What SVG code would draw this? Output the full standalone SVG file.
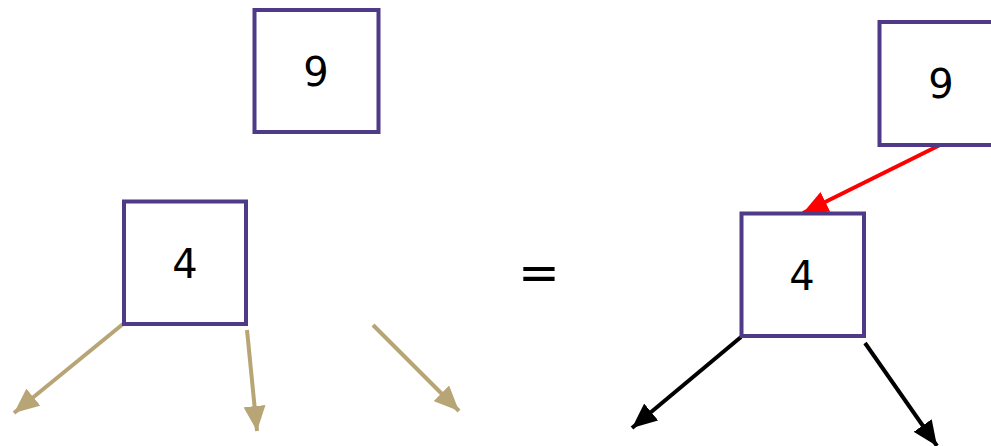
<svg xmlns="http://www.w3.org/2000/svg" width="991" height="446" viewBox="0 0 991 446">
<style>
.box{fill:#fff;stroke:#4F3A88;stroke-width:4}
.lbl{font-family:"DejaVu Sans",sans-serif;font-size:40px;fill:#000;text-anchor:middle}
.tan{stroke:#B8A575;stroke-width:4;fill:none}
.blk{stroke:#000;stroke-width:4;fill:none}
.red{stroke:#FF0000;stroke-width:4;fill:none}
</style>
<defs>
<marker id="mt" markerUnits="userSpaceOnUse" markerWidth="26" markerHeight="22" refX="25" refY="11" orient="auto"><path d="M0,0 L25,11 L0,22 z" fill="#B8A575"/></marker>
<marker id="mb" markerUnits="userSpaceOnUse" markerWidth="26" markerHeight="22" refX="25" refY="11" orient="auto"><path d="M0,0 L25,11 L0,22 z" fill="#000"/></marker>
<marker id="mr" markerUnits="userSpaceOnUse" markerWidth="26" markerHeight="22" refX="25" refY="11" orient="auto"><path d="M0,0 L25,11 L0,22 z" fill="#FF0000"/></marker>
</defs>
<g id="connectors">
<line class="tan" x1="123" y1="324" x2="14" y2="413" marker-end="url(#mt)"/>
<line class="tan" x1="247" y1="330" x2="257" y2="431" marker-end="url(#mt)"/>
<line class="tan" x1="373" y1="325" x2="459" y2="411" marker-end="url(#mt)"/>
<line class="red" x1="940" y1="145" x2="803" y2="213" marker-end="url(#mr)"/>
<line class="blk" x1="741" y1="337" x2="632" y2="428" marker-end="url(#mb)"/>
<line class="blk" x1="865" y1="343" x2="937" y2="446" marker-end="url(#mb)"/>
</g>
<g id="n9a"><rect class="box" x="254.5" y="10" width="124" height="122"/><text class="lbl" x="316" y="86">9</text></g>
<g id="n4a"><rect class="box" x="124" y="201.5" width="122" height="122.5"/><text class="lbl" x="185" y="278">4</text></g>
<g id="eq"><text x="539" y="290" style="font-family:'DejaVu Sans',sans-serif;font-size:50px;text-anchor:middle">=</text></g>
<g id="n9b"><rect class="box" x="879.5" y="22" width="124" height="123"/><text class="lbl" x="941" y="98">9</text></g>
<g id="n4b"><rect class="box" x="741.5" y="213.5" width="122.5" height="122.5"/><text class="lbl" x="802" y="290">4</text></g>
</svg>
